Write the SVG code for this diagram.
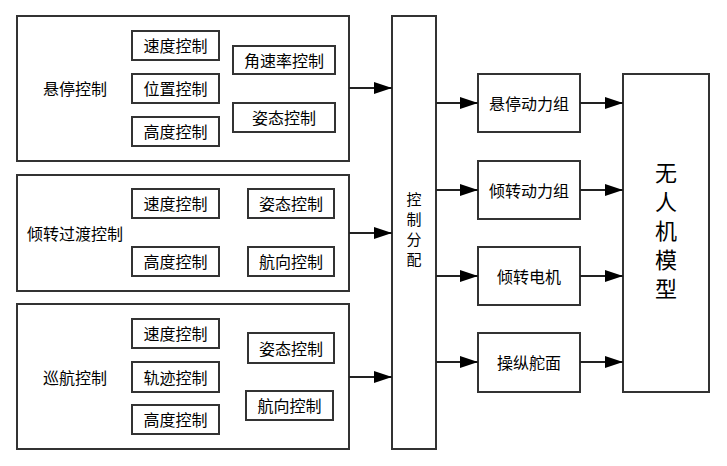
<svg xmlns="http://www.w3.org/2000/svg" width="727" height="466" viewBox="0 0 727 466">
<defs>
<marker id="ah" markerUnits="userSpaceOnUse" markerWidth="18" markerHeight="12" refX="18" refY="6" orient="auto">
<path d="M0,0 L18,6 L0,12 Z" fill="#000"/>
</marker>
<style>
rect{fill:#fff;stroke:#333;stroke-width:2}
text{font-family:"Noto Sans CJK SC","Noto Sans",sans-serif;font-size:16px;fill:#000;text-anchor:middle;dominant-baseline:central}
text.v{writing-mode:vertical-rl;text-anchor:start}
.c line{stroke:#222;stroke-width:2;marker-end:url(#ah)}
</style>
</defs>
<rect x="0" y="0" width="727" height="466" style="stroke:none;fill:#fff"/>
<g id="hover">
<rect x="17" y="16" width="332" height="145"/>
<text x="75" y="88">悬停控制</text>
<rect x="132" y="31" width="87" height="29"/><text x="175.5" y="45">速度控制</text>
<rect x="132" y="74" width="87" height="29"/><text x="175.5" y="88">位置控制</text>
<rect x="132" y="117" width="87" height="29"/><text x="175.5" y="131">高度控制</text>
<rect x="233" y="46" width="102" height="28"/><text x="284" y="59.5">角速率控制</text>
<rect x="233" y="103" width="102" height="29"/><text x="284" y="117">姿态控制</text>
</g>
<g id="transition">
<rect x="17" y="175" width="332" height="116"/>
<text x="75" y="233">倾转过渡控制</text>
<rect x="132" y="189" width="87" height="29"/><text x="175.5" y="203">速度控制</text>
<rect x="248" y="189" width="86" height="29"/><text x="291" y="203">姿态控制</text>
<rect x="132" y="247" width="87" height="29"/><text x="175.5" y="261">高度控制</text>
<rect x="248" y="247" width="86" height="29"/><text x="291" y="261">航向控制</text>
</g>
<g id="cruise">
<rect x="17" y="304" width="332" height="145"/>
<text x="75" y="377">巡航控制</text>
<rect x="132" y="319" width="87" height="29"/><text x="175.5" y="333">速度控制</text>
<rect x="132" y="362" width="87" height="30"/><text x="175.5" y="376.5">轨迹控制</text>
<rect x="132" y="405" width="87" height="29"/><text x="175.5" y="419">高度控制</text>
<rect x="248" y="333" width="86" height="30"/><text x="291" y="347.5">姿态控制</text>
<rect x="246" y="391" width="87" height="29"/><text x="289.5" y="405">航向控制</text>
</g>
<g id="alloc">
<rect x="392" y="16" width="44" height="433"/>
<text class="v" x="414" y="192" style="font-size:15px;letter-spacing:5px">控制分配</text>
</g>
<g id="hoverPower">
<rect x="478" y="74" width="102" height="58"/><text x="529" y="103">悬停动力组</text>
</g>
<g id="tiltPower">
<rect x="478" y="161" width="102" height="58"/><text x="529" y="190">倾转动力组</text>
</g>
<g id="tiltMotor">
<rect x="478" y="247" width="102" height="58"/><text x="529" y="276">倾转电机</text>
</g>
<g id="surfaces">
<rect x="478" y="333" width="102" height="59"/><text x="529" y="362">操纵舵面</text>
</g>
<g id="model">
<rect x="623" y="74" width="86" height="318"/>
<text class="v" x="666" y="161.5" style="font-size:22px;letter-spacing:7px">无人机模型</text>
</g>
<g class="c" id="connectors">
<line x1="349" y1="88" x2="392" y2="88"/>
<line x1="349" y1="233" x2="392" y2="233"/>
<line x1="349" y1="377" x2="392" y2="377"/>
<line x1="436" y1="103" x2="478" y2="103"/>
<line x1="436" y1="190" x2="478" y2="190"/>
<line x1="436" y1="276" x2="478" y2="276"/>
<line x1="436" y1="362" x2="478" y2="362"/>
<line x1="580" y1="103" x2="623" y2="103"/>
<line x1="580" y1="190" x2="623" y2="190"/>
<line x1="580" y1="276" x2="623" y2="276"/>
<line x1="580" y1="362" x2="623" y2="362"/>
</g>
</svg>
